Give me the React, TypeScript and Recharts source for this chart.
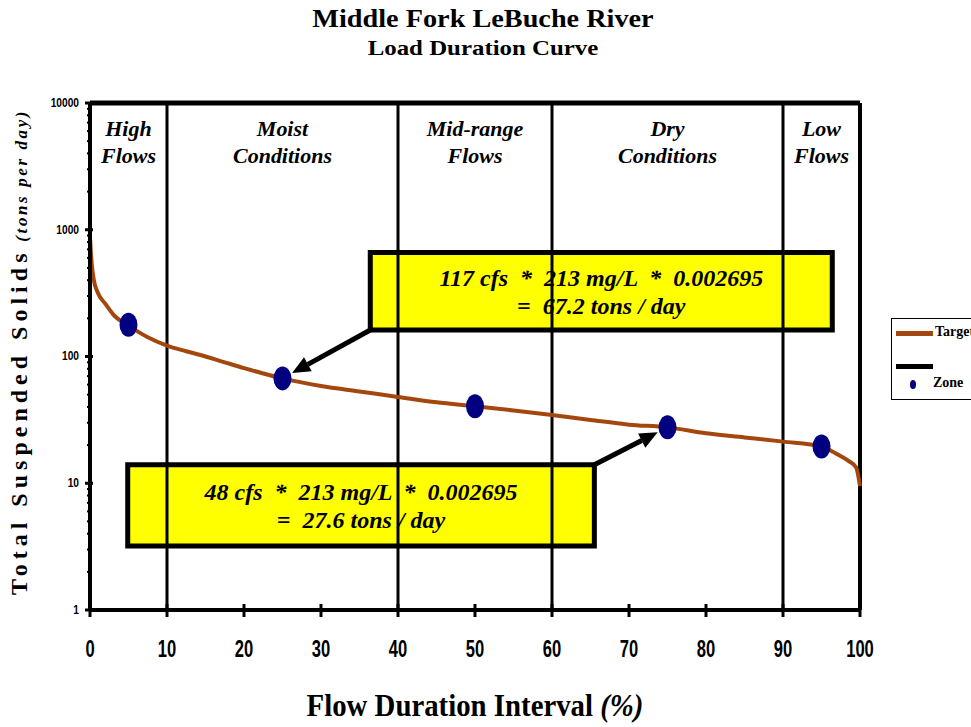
import {
  ComposedChart,
  Line,
  Scatter,
  XAxis,
  YAxis,
  ReferenceLine,
  ReferenceArea,
} from "recharts";

// ─── Data ────────────────────────────────────────────────────────────────────

// flow duration interval (%) and target load (tons/day)
const curvePct = [
  0, 0.2, 0.5, 1, 2, 3, 5, 6, 7.5, 10, 12.5, 15, 17.5, 20, 22.5, 25, 30, 35,
  40, 45, 50, 55, 60, 65, 70, 75, 80, 85, 90, 95, 97, 98.5, 99.5, 100,
];
const curveLoad = [
  870, 560, 400, 320, 260, 215, 175, 160, 142, 122, 110, 100, 90, 81, 73.5,
  67.2, 58.5, 53, 48, 43.5, 40.5, 37.5, 34.6, 31.6, 29, 27.6, 24.8, 23, 21.3,
  19.5, 17, 15, 13.3, 9.5,
];

// zone mid-points
const zonePct = [5, 25, 50, 75, 95];
const zoneLoad = [178, 67.2, 40.5, 27.6, 19.5];

// zone boundaries and names
const zoneEdges = [0, 10, 40, 60, 90, 100];
const zoneNames = [
  ["High", "Flows"],
  ["Moist", "Conditions"],
  ["Mid-range", "Flows"],
  ["Dry", "Conditions"],
  ["Low", "Flows"],
];

const xTicks = [0, 10, 20, 30, 40, 50, 60, 70, 80, 90, 100];
const yMajor = [1, 10, 100, 1000, 10000];
const yMinorSteps = [2, 3, 4, 5, 6, 7, 8, 9];

// callout boxes (data coords) and their text
const calloutA = {
  x1: 36.4, x2: 96.4, y1: 162, y2: 660,
  lines: ["117 cfs  *  213 mg/L  *  0.002695", "=  67.2 tons / day"],
  from: { x: 36.4, y: 162 },
  to: { x: 25, y: 67.2 },
};
const calloutB = {
  x1: 4.9, x2: 65.5, y1: 3.2, y2: 14,
  lines: ["48 cfs  *  213 mg/L  *  0.002695", "=  27.6 tons / day"],
  from: { x: 65.5, y: 14 },
  to: { x: 75, y: 27.6 },
};

const curveData = curvePct.map((x, i) => ({ x, load: curveLoad[i] }));
const zoneData = zonePct.map((x, i) => ({ x, zone: zoneLoad[i] }));
const yTicks = [
  ...yMajor.slice(0, 4).flatMap((d) => [d, ...yMinorSteps.map((m) => d * m)]),
  10000,
];

const SERIF = "'Liberation Serif', 'Times New Roman', serif";
const SANS = "'Liberation Sans', Arial, sans-serif";
const BROWN = "#A4470F";
const NAVY = "#000080";

// ─── Ticks ───────────────────────────────────────────────────────────────────

function YTick(props: any) {
  const { x, y, payload } = props;
  const major = yMajor.includes(payload.value);
  const tx = x - 11;
  return (
    <g>
      <line
        x1={x - (major ? 5 : 3)}
        x2={x + (major ? 3 : 1)}
        y1={y}
        y2={y}
        stroke="#000"
        strokeWidth={major ? 3 : 2}
      />
      {major && (
        <text
          x={tx}
          y={y}
          dy={4}
          textAnchor="end"
          fontFamily={SANS}
          fontWeight="bold"
          fontSize={12}
          fill="#000"
          transform={`translate(${tx},0) scale(0.85,1) translate(${-tx},0)`}
        >
          {payload.value}
        </text>
      )}
    </g>
  );
}

function XTick(props: any) {
  const { x, y, payload } = props;
  return (
    <g>
      <line x1={x} x2={x} y1={y - 6} y2={y + 7} stroke="#000" strokeWidth={3} />
      <text
        x={x}
        y={y + 47}
        textAnchor="middle"
        fontFamily={SANS}
        fontWeight="bold"
        fontSize={23}
        fill="#000"
        transform={`translate(${x},0) scale(0.72,1) translate(${-x},0)`}
      >
        {payload.value}
      </text>
    </g>
  );
}

// ─── Labels / shapes ─────────────────────────────────────────────────────────

const zoneLabel = (lines: string[]) => (props: any) => {
  const { x, y, width } = props.viewBox;
  const cx = x + width / 2;
  return (
    <text
      textAnchor="middle"
      fontFamily={SERIF}
      fontStyle="italic"
      fontWeight="bold"
      fontSize={20}
      fill="#000"
      transform={`translate(${cx},0) scale(1.1,1) translate(${-cx},0)`}
    >
      {lines.map((t, i) => (
        <tspan key={i} x={cx} y={y + 33 + i * 27}>
          {t}
        </tspan>
      ))}
    </text>
  );
};

const boxLabel = (lines: string[]) => (props: any) => {
  const { x, y, width, height } = props.viewBox;
  const cy = y + height / 2;
  return (
    <text
      textAnchor="middle"
      fontFamily={SERIF}
      fontStyle="italic"
      fontWeight="bold"
      fontSize={24}
      fill="#000"
      style={{ whiteSpace: "pre" }}
    >
      {lines.map((t, i) => (
        <tspan key={i} x={x + width / 2} y={cy - 5 + i * 28}>
          {t}
        </tspan>
      ))}
    </text>
  );
};

function Arrow(props: any) {
  const { x1, y1, x2, y2 } = props;
  const dx = x2 - x1;
  const dy = y2 - y1;
  const len = Math.sqrt(dx * dx + dy * dy);
  const ux = dx / len;
  const uy = dy / len;
  // stop short of the dot, then draw the head
  const tipX = x2 - ux * 11;
  const tipY = y2 - uy * 11;
  const baseX = tipX - ux * 18;
  const baseY = tipY - uy * 18;
  const px = -uy * 8;
  const py = ux * 8;
  return (
    <g>
      <line x1={x1} y1={y1} x2={baseX} y2={baseY} stroke="#000" strokeWidth={5} />
      <polygon
        points={`${tipX},${tipY} ${baseX + px},${baseY + py} ${baseX - px},${baseY - py}`}
        fill="#000"
      />
    </g>
  );
}

function ZoneDot(props: any) {
  const { cx, cy } = props;
  return <ellipse cx={cx} cy={cy} rx={9} ry={12} fill={NAVY} />;
}

// ─── Main ────────────────────────────────────────────────────────────────────

export default function App() {
  return (
    <div
      style={{
        position: "absolute",
        left: 0,
        top: 0,
        width: 971,
        height: 727,
        overflow: "hidden",
        background: "#fff",
      }}
    >
      {/* Title */}
      <div
        style={{
          position: "absolute",
          left: 0,
          width: 966,
          top: 4,
          textAlign: "center",
          fontFamily: SERIF,
          fontWeight: "bold",
          color: "#000",
          transform: "scaleX(1.13)",
        }}
      >
        <div style={{ fontSize: 25, lineHeight: "30px" }}>
          Middle Fork LeBuche River
        </div>
        <div style={{ fontSize: 22, lineHeight: "28px" }}>Load Duration Curve</div>
      </div>

      <ComposedChart
        width={971}
        height={727}
        margin={{ top: 103, right: 111, left: 30, bottom: 57 }}
      >
        <XAxis
          type="number"
          dataKey="x"
          domain={[0, 100]}
          ticks={xTicks}
          interval={0}
          tick={<XTick />}
          tickLine={false}
          tickSize={0}
          tickMargin={0}
          axisLine={{ stroke: "#000", strokeWidth: 4 }}
          height={60}
        />
        <YAxis
          type="number"
          scale="log"
          domain={[1, 10000]}
          allowDataOverflow
          ticks={yTicks}
          interval={0}
          tick={<YTick />}
          tickLine={false}
          tickSize={0}
          tickMargin={0}
          axisLine={{ stroke: "#000", strokeWidth: 4 }}
          width={60}
        />

        {/* frame top/right + zone boundaries */}
        <ReferenceLine y={10000} stroke="#000" strokeWidth={5} />
        <ReferenceLine x={100} stroke="#000" strokeWidth={4} />
        {zoneEdges.slice(1, -1).map((x) => (
          <ReferenceLine key={x} x={x} stroke="#000" strokeWidth={3} />
        ))}
        {zoneNames.map((lines, i) => (
          <ReferenceArea
            key={i}
            x1={zoneEdges[i]}
            x2={zoneEdges[i + 1]}
            y1={1}
            y2={10000}
            fill="none"
            fillOpacity={0}
            label={zoneLabel(lines)}
          />
        ))}

        <Line
          data={curveData}
          dataKey="load"
          type="monotone"
          stroke={BROWN}
          strokeWidth={4}
          dot={false}
          isAnimationActive={false}
        />
        <Scatter
          data={zoneData}
          dataKey="zone"
          shape={<ZoneDot />}
          isAnimationActive={false}
        />

        {[calloutA, calloutB].map((c, i) => (
          <ReferenceArea
            key={`box${i}`}
            x1={c.x1}
            x2={c.x2}
            y1={c.y1}
            y2={c.y2}
            fill="#FFFF00"
            fillOpacity={1}
            stroke="#000"
            strokeWidth={5}
            label={boxLabel(c.lines)}
          />
        ))}
        {[calloutA, calloutB].map((c, i) => (
          <ReferenceLine
            key={`arrow${i}`}
            segment={[c.from, c.to]}
            shape={<Arrow />}
          />
        ))}
      </ComposedChart>

      {/* Y axis title */}
      <div
        style={{
          position: "absolute",
          left: 20,
          top: 352,
          width: 600,
          transform: "translate(-50%, -50%) rotate(-90deg)",
          textAlign: "center",
          whiteSpace: "nowrap",
          fontFamily: SERIF,
          fontWeight: "bold",
          color: "#000",
          lineHeight: "26px",
        }}
      >
        <span style={{ fontSize: 24, letterSpacing: 5 }}>
          Total Suspended Solids
        </span>
        <span style={{ fontSize: 17, fontStyle: "italic", letterSpacing: 2.6 }}>
          {"  "}(tons per day)
        </span>
      </div>

      {/* X axis title */}
      <div
        style={{
          position: "absolute",
          left: 475,
          top: 689,
          transform: "translateX(-50%) scaleX(0.9)",
          whiteSpace: "nowrap",
          fontFamily: SERIF,
          fontWeight: "bold",
          fontSize: 32,
          lineHeight: "32px",
          color: "#000",
        }}
      >
        Flow Duration Interval <i>(%)</i>
      </div>

      {/* Legend (clipped by the right edge, as in the original) */}
      <div
        style={{
          position: "absolute",
          left: 891,
          top: 318,
          width: 130,
          height: 80,
          border: "1px solid #000",
          background: "#fff",
          fontFamily: SERIF,
          fontWeight: "bold",
          fontSize: 14,
          color: "#000",
        }}
      >
        <div style={{ position: "absolute", left: 4, top: 12, width: 37, height: 5, background: BROWN }} />
        <div style={{ position: "absolute", left: 43, top: 5 }}>Target</div>
        <div style={{ position: "absolute", left: 4, top: 45, width: 37, height: 5, background: "#000" }} />
        <div style={{ position: "absolute", left: 18, top: 61, width: 6, height: 9, borderRadius: "50%", background: NAVY }} />
        <div style={{ position: "absolute", left: 41, top: 56 }}>Zone</div>
      </div>
    </div>
  );
}
